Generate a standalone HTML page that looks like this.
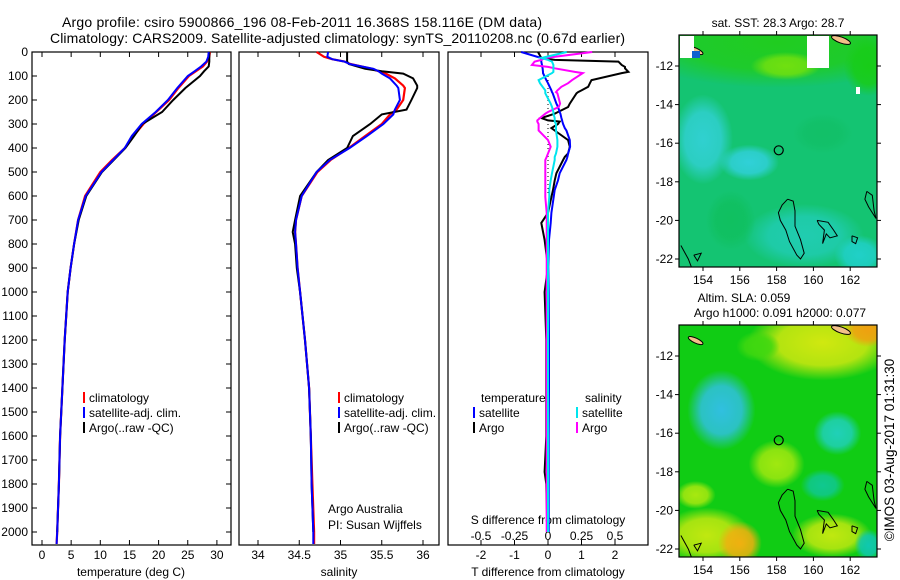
<!DOCTYPE html>
<html><head><meta charset="utf-8">
<style>
html,body{margin:0;padding:0;background:#fff;}
svg{display:block;font-family:"Liberation Sans",sans-serif;}
text{font-size:12px;fill:#000;}
</style></head>
<body>
<svg id="fig" width="900" height="580" viewBox="0 0 900 580" xmlns="http://www.w3.org/2000/svg">
<text x="62" y="27" style="font-size:14px" textLength="480">Argo profile: csiro 5900866_196 08-Feb-2011 16.368S 158.116E (DM data)</text>
<text x="50" y="43" style="font-size:14px" textLength="575">Climatology: CARS2009. Satellite-adjusted climatology: synTS_20110208.nc (0.67d earlier)</text>
<g id="g"></g>
</svg>
<script>
// ---- data ----
const tDepth = [0,20,40,60,80,100,150,200,250,300,350,400,450,500,600,700,800,900,1000,1200,1400,1600,1800,2000,2050];
const tClim  = [28.8,28.7,28.3,27.6,26.4,25.2,23.4,21.8,19.6,17.4,15.7,14.2,12.0,10.0,7.4,6.2,5.5,4.9,4.4,3.9,3.5,3.1,2.9,2.6,2.5];
const tSat   = [28.6,28.5,28.2,27.3,26.2,25.0,23.2,21.6,19.5,17.1,15.4,14.2,12.2,10.2,7.5,6.2,5.5,4.9,4.4,3.9,3.5,3.1,2.9,2.6,2.5];
const tArgo  = [28.7,28.7,28.7,28.6,27.8,27.1,24.6,22.5,20.6,17.2,15.8,14.3,12.3,10.3,7.6,6.3,5.5,4.9,4.4,3.9,3.5,3.1,2.9,2.6];
const sDepth = [0,20,30,40,50,70,80,90,110,140,150,200,240,260,300,350,400,450,500,600,700,750,800,900,1000,1200,1400,1600,1800,2000,2050];
const sClim  = [34.71,34.8,34.9,35.05,35.12,35.38,35.46,35.55,35.66,35.76,35.78,35.76,35.68,35.6,35.5,35.3,35.1,34.88,34.72,34.53,34.46,34.45,34.46,34.48,34.51,34.57,34.62,34.64,34.66,34.68,34.68];
const sSat   = [34.85,34.84,34.9,35.05,35.11,35.4,35.46,35.5,35.6,35.68,35.7,35.72,35.66,35.64,35.52,35.32,35.11,34.87,34.71,34.53,34.46,34.45,34.46,34.48,34.51,34.57,34.62,34.64,34.65,34.67,34.67];
const sArgo  = [35.08,35.08,35.08,35.08,35.1,35.3,35.5,35.76,35.88,35.93,35.93,35.86,35.8,35.5,35.36,35.15,35.08,34.85,34.71,34.51,34.45,34.42,34.45,34.47,34.51,34.57,34.62,34.64,34.65,34.67];
const dDepth = [0,25,33,40,54,62,68,83,88,117,130,145,160,167,172,215,229,250,257,275,285,290,300,317,327,367,395,423,437,450,505,535,575,604,670,712,783,895,1000,1200,1400,1600,1750,1800,2000];
const dTArgo = [-0.3,-0.2,0.2,2.1,2.2,2.3,2.3,2.4,2.2,1.3,1.25,1.2,1.0,0.9,0.85,0.65,0.6,0.3,0.2,-0.2,0.0,0.35,0.3,0.1,0.2,0.6,0.65,0.6,0.5,0.45,0.25,0.2,0.15,0.1,0.0,-0.2,-0.1,0.0,-0.1,-0.05,-0.05,-0.05,-0.1,-0.05,-0.02];
const dTSat  = [-0.8,-0.2,-0.2,-0.2,-0.18,-0.17,-0.16,-0.15,-0.15,-0.05,0.0,0.05,0.1,0.12,0.14,0.25,0.3,0.35,0.37,0.4,0.42,0.43,0.45,0.5,0.55,0.65,0.66,0.6,0.58,0.55,0.35,0.3,0.2,0.17,0.1,0.08,0.03,0.01,0.02,0.03,0.03,0.02,0.02,0.02,0.02];
const dSArgo = [0.33,-0.02,-0.05,-0.1,-0.12,0.0,0.05,0.2,0.26,0.18,0.15,0.1,0.07,0.06,0.07,0.09,0.08,0.0,-0.02,-0.06,-0.08,-0.08,-0.07,-0.07,-0.07,0.0,0.02,0.0,-0.01,-0.02,-0.02,-0.02,-0.02,-0.02,-0.01,-0.01,-0.01,-0.01,-0.01,-0.01,-0.01,-0.01,-0.01,-0.01,-0.01];
const dSSat  = [0.14,-0.05,0.0,0.03,0.04,0.04,0.04,0.04,0.03,-0.07,-0.06,-0.04,-0.02,-0.02,-0.02,0.02,0.03,0.04,0.04,0.05,0.05,0.05,0.06,0.06,0.06,0.07,0.07,0.06,0.05,0.05,0.03,0.02,0.01,0.01,0.0,0.0,0.0,0.0,0.0,0.0,0.0,0.0,0.0,0.0,0.0];
const depthTicks = [0,100,200,300,400,500,600,700,800,900,1000,1100,1200,1300,1400,1500,1600,1700,1800,1900,2000];
const tTicks = [0,5,10,15,20,25,30];
const sTicks = [34,34.5,35,35.5,36];
const sTickLabels = ["34","34.5","35","35.5","36"];
const dTTicks = [-2,-1,0,1,2];
const dSTicks = [-0.5,-0.25,0,0.25,0.5];
const lonTicks = [154,156,158,160,162];
const latTicks = [-12,-14,-16,-18,-20,-22];

// ---- helpers ----
const NS="http://www.w3.org/2000/svg";
const G=document.getElementById('g');
function el(tag,attrs,parent,txt){const e=document.createElementNS(NS,tag);for(const k in attrs)e.setAttribute(k,attrs[k]);if(txt!==undefined)e.textContent=txt;(parent||G).appendChild(e);return e;}
const yD = d => 52 + d*0.24;
const xT = v => 42 + v*5.83;
const xS = v => 258 + (v-34)*82.5;
const xDT = v => 548 + v*33.5;
const xDS = v => 548 + v*134;
function poly(xs,ds,fx,color,w,name){
  const n=Math.min(xs.length,ds.length);
  let p=[];for(let i=0;i<n;i++)p.push(fx(xs[i]).toFixed(1)+','+yD(ds[i]).toFixed(1));
  const e=el('polyline',{points:p.join(' '),fill:'none',stroke:color,'stroke-width':w,'stroke-linejoin':'miter'});
  
  
}
function frame(x0,x1,name){
  const r=el('rect',{x:x0,y:52,width:x1-x0,height:493,fill:'none',stroke:'#000','stroke-width':1.2});
  
  
}
function label(x,y,s,anchor,name,extra){
  const t=el('text',Object.assign({x:x,y:y,'text-anchor':anchor||'start'},extra||{}),G,s);
  
  
  return t;
}

frame(32,231,'temperature-panel');
frame(239,439,'salinity-panel');
frame(448,648,'difference-panel');

depthTicks.forEach(d=>{
  const y=yD(d);
  el('line',{x1:32,y1:y,x2:37,y2:y,stroke:'#000'});
  el('line',{x1:226,y1:y,x2:231,y2:y,stroke:'#000'});
  label(28,y+4,String(d),'end','depth-tick-label');
});
tTicks.forEach(v=>{const x=xT(v);
  el('line',{x1:x,y1:545,x2:x,y2:540,stroke:'#000'});el('line',{x1:x,y1:52,x2:x,y2:57,stroke:'#000'});
  label(x,559,String(v),'middle','temperature-tick-label');});
label(131,576,'temperature (deg C)','middle','temperature-axis-title');
sTicks.forEach((v,i)=>{const x=xS(v);
  el('line',{x1:x,y1:545,x2:x,y2:540,stroke:'#000'});el('line',{x1:x,y1:52,x2:x,y2:57,stroke:'#000'});
  label(x,559,sTickLabels[i],'middle','salinity-tick-label');});
label(339,576,'salinity','middle','salinity-axis-title');
dTTicks.forEach(v=>{const x=xDT(v);
  el('line',{x1:x,y1:545,x2:x,y2:540,stroke:'#000'});el('line',{x1:x,y1:52,x2:x,y2:57,stroke:'#000'});
  label(x,559,String(v),'middle','t-diff-tick-label');});
dSTicks.forEach(v=>{label(xDS(v),540,String(v),'middle','s-diff-tick-label');});
label(548,524,'S difference from climatology','middle','s-diff-axis-title');
label(548,576,'T difference from climatology','middle','t-diff-axis-title');

poly(tClim,tDepth,xT,'#ff0000',2.2,'temperature-climatology-line');
poly(tArgo,tDepth,xT,'#000000',2,'temperature-argo-line');
poly(tSat,tDepth,xT,'#0000ff',2,'temperature-satellite-line');
poly(sClim,sDepth,xS,'#ff0000',2.2,'salinity-climatology-line');
poly(sArgo,sDepth,xS,'#000000',2,'salinity-argo-line');
poly(sSat,sDepth,xS,'#0000ff',2,'salinity-satellite-line');
el('line',{x1:548,y1:yD(100),x2:548,y2:yD(600),stroke:'#000','stroke-dasharray':'1,3'});
poly(dTArgo,dDepth,xDT,'#000000',2,'t-diff-argo-line');
poly(dTSat,dDepth,xDT,'#0000ff',2,'t-diff-satellite-line');
poly(dSArgo,dDepth,xDS,'#ff00ff',2,'s-diff-argo-line');
poly(dSSat,dDepth,xDS,'#00e5ee',2,'s-diff-satellite-line');

function leg(x,y,color,txt,name){el('line',{x1:x,y1:y-10,x2:x,y2:y+1,stroke:color,'stroke-width':2});label(x+5,y,txt,'start',name);}
leg(84,402,'#ff0000','climatology','legend-climatology');
leg(84,417,'#0000ff','satellite-adj. clim.','legend-satellite-adj');
leg(84,432,'#000000','Argo(..raw -QC)','legend-argo');
leg(339,402,'#ff0000','climatology','legend2-climatology');
leg(339,417,'#0000ff','satellite-adj. clim.','legend2-satellite-adj');
leg(339,432,'#000000','Argo(..raw -QC)','legend2-argo');
label(481,402,'temperature','start','legend-temperature-header');
label(585,402,'salinity','start','legend-salinity-header');
leg(474,417,'#0000ff','satellite','legend-t-satellite');
leg(474,432,'#000000','Argo','legend-t-argo');
leg(577,417,'#00e5ee','satellite','legend-s-satellite');
leg(577,432,'#ff00ff','Argo','legend-s-argo');
label(328,513,'Argo Australia','start','credit-argo-australia');
label(328,529,'PI: Susan Wijffels','start','credit-pi');

// ---- maps ----
const MX0=679,MX1=877;
const mlon = lon => 703 + (lon-154)*18.4;
function mapPanel(top,name,blobs,base){
  const lat = la => top + 31 + (-12-la)*19.3;
  const id='clip'+top;
  const cp=el('clipPath',{id:id});el('rect',{x:MX0,y:top,width:MX1-MX0,height:232},cp);
  const g=el('g',{'clip-path':'url(#'+id+')'});
  
  
  el('rect',{x:MX0,y:top,width:MX1-MX0,height:232,fill:base},g);
  const defs=el('defs',{},G);
  blobs.forEach((b,i)=>{
    const gid=id+'b'+i;
    const rg=el('radialGradient',{id:gid},defs);
    el('stop',{offset:'0%','stop-color':b[4],'stop-opacity':1},rg);
    el('stop',{offset:'60%','stop-color':b[4],'stop-opacity':0.85},rg);
    el('stop',{offset:'100%','stop-color':b[4],'stop-opacity':0},rg);
    el('ellipse',{cx:mlon(b[0]),cy:lat(b[1]),rx:b[2],ry:b[3],fill:'url(#'+gid+')'},g);
  });
  const shapes=[
    [[158.6,-18.9],[158.9,-19.0],[159.0,-19.5],[159.0,-20.3],[159.3,-21.0],[159.5,-21.7],[159.3,-22.0],[159.1,-21.8],[158.7,-21.1],[158.5,-20.5],[158.2,-20.0],[158.1,-19.6],[158.3,-19.2]],
    [[160.2,-20.0],[160.8,-20.1],[161.1,-20.5],[161.3,-20.8],[160.9,-20.9],[160.7,-20.7],[160.5,-21.2],[160.6,-20.5],[160.3,-20.2]],
    [[162.9,-18.5],[163.2,-18.7],[163.3,-19.5],[163.4,-19.9],[163.0,-19.3],[162.8,-18.9]],
    [[162.1,-20.8],[162.4,-20.9],[162.3,-21.2],[162.1,-21.1]],
    [[153.5,-21.8],[153.9,-21.7],[153.7,-22.1]],
    [[152.8,-21.3],[153.2,-22.0],[153.4,-22.5]]
  ];
  shapes.forEach((s,i)=>{
    const c=el('polyline',{points:s.map(p=>mlon(p[0]).toFixed(1)+','+lat(p[1]).toFixed(1)).join(' ')+(i<5?' '+mlon(s[0][0]).toFixed(1)+','+lat(s[0][1]).toFixed(1):''),fill:'none',stroke:'#000','stroke-width':1},g);
    
    
  });
  el('ellipse',{cx:mlon(161.5),cy:top+5,rx:10,ry:3,fill:'#f3c08a',stroke:'#000','stroke-width':1,transform:'rotate(20 '+mlon(161.5)+' '+(top+5)+')'},g);
  el('ellipse',{cx:mlon(153.6),cy:lat(-11.2),rx:8,ry:2.5,fill:'#f3c08a',stroke:'#000','stroke-width':1,transform:'rotate(25 '+mlon(153.6)+' '+lat(-11.2)+')'},g);
  const ac=el('circle',{cx:mlon(158.116),cy:lat(-16.368),r:4.5,fill:'none',stroke:'#000','stroke-width':1.2},G);
  
  
  const fr=el('rect',{x:MX0,y:top,width:MX1-MX0,height:232,fill:'none',stroke:'#000','stroke-width':1.2});
  
  
  latTicks.forEach(la=>{const y=lat(la);
    el('line',{x1:MX0-4,y1:y,x2:MX0,y2:y,stroke:'#000'});el('line',{x1:MX1,y1:y,x2:MX1+4,y2:y,stroke:'#000'});
    label(MX0-6,y+4,String(la),'end',name+'-lat-label');});
  lonTicks.forEach(lo=>{const x=mlon(lo);
    el('line',{x1:x,y1:top+232,x2:x,y2:top+236,stroke:'#000'});el('line',{x1:x,y1:top-4,x2:x,y2:top,stroke:'#000'});
    label(x,top+249,String(lo),'middle',name+'-lon-label');});
  return lat;
}
// SST map
const lat1=mapPanel(35,'sst-map',[
  [158,-10.8,150,45,'#20cc20'],[158.5,-12.0,35,14,'#70e010'],[163,-12,25,30,'#18cc18'],
  [154,-15.8,30,45,'#30d0d0'],[156.5,-17,30,18,'#30d0d8'],[159.5,-20.8,60,32,'#20ccb0'],
  [162.5,-21.8,25,20,'#20d0c8'],[155.5,-20,25,30,'#10c060'],[160.5,-15.5,30,20,'#12c068']
],'#14c472');
el('rect',{x:680,y:36,width:14,height:22,fill:'#fff'});
el('rect',{x:692,y:51,width:8,height:7,fill:'#1060d0'});
el('rect',{x:807,y:36,width:22,height:32,fill:'#fff'});
el('rect',{x:856,y:87,width:4,height:7,fill:'#fff'});
label(778,27,'sat. SST: 28.3 Argo: 28.7','middle','sst-map-title');
// SLA map
label(744,302,'Altim. SLA: 0.059','middle','sla-map-title');
label(780,317,'Argo h1000: 0.091 h2000: 0.077','middle','sla-map-subtitle');
const lat2=mapPanel(325,'sla-map',[
  [160.5,-11.3,75,38,'#d0e810'],[163,-10.6,25,18,'#f0a010'],[158,-17.6,28,24,'#a0e810'],
  [154.2,-21.3,45,28,'#c0e810'],[156,-21.7,22,22,'#f0b010'],[161,-21.3,40,22,'#c0e810'],
  [155,-14.8,34,40,'#30c0e0'],[161.3,-16,24,22,'#20d0b8'],[160.5,-18.7,22,16,'#10c890'],
  [163,-21.8,14,16,'#10c8b0'],[157,-11.5,22,15,'#40d810'],[153.6,-19.2,20,14,'#a8e810']
],'#10cc14');
label(0,0,'©IMOS 03-Aug-2017 01:31:30','middle','timestamp',{transform:'translate(894 450) rotate(-90)',style:'font-size:13.5px'});
</script>
</body></html>
